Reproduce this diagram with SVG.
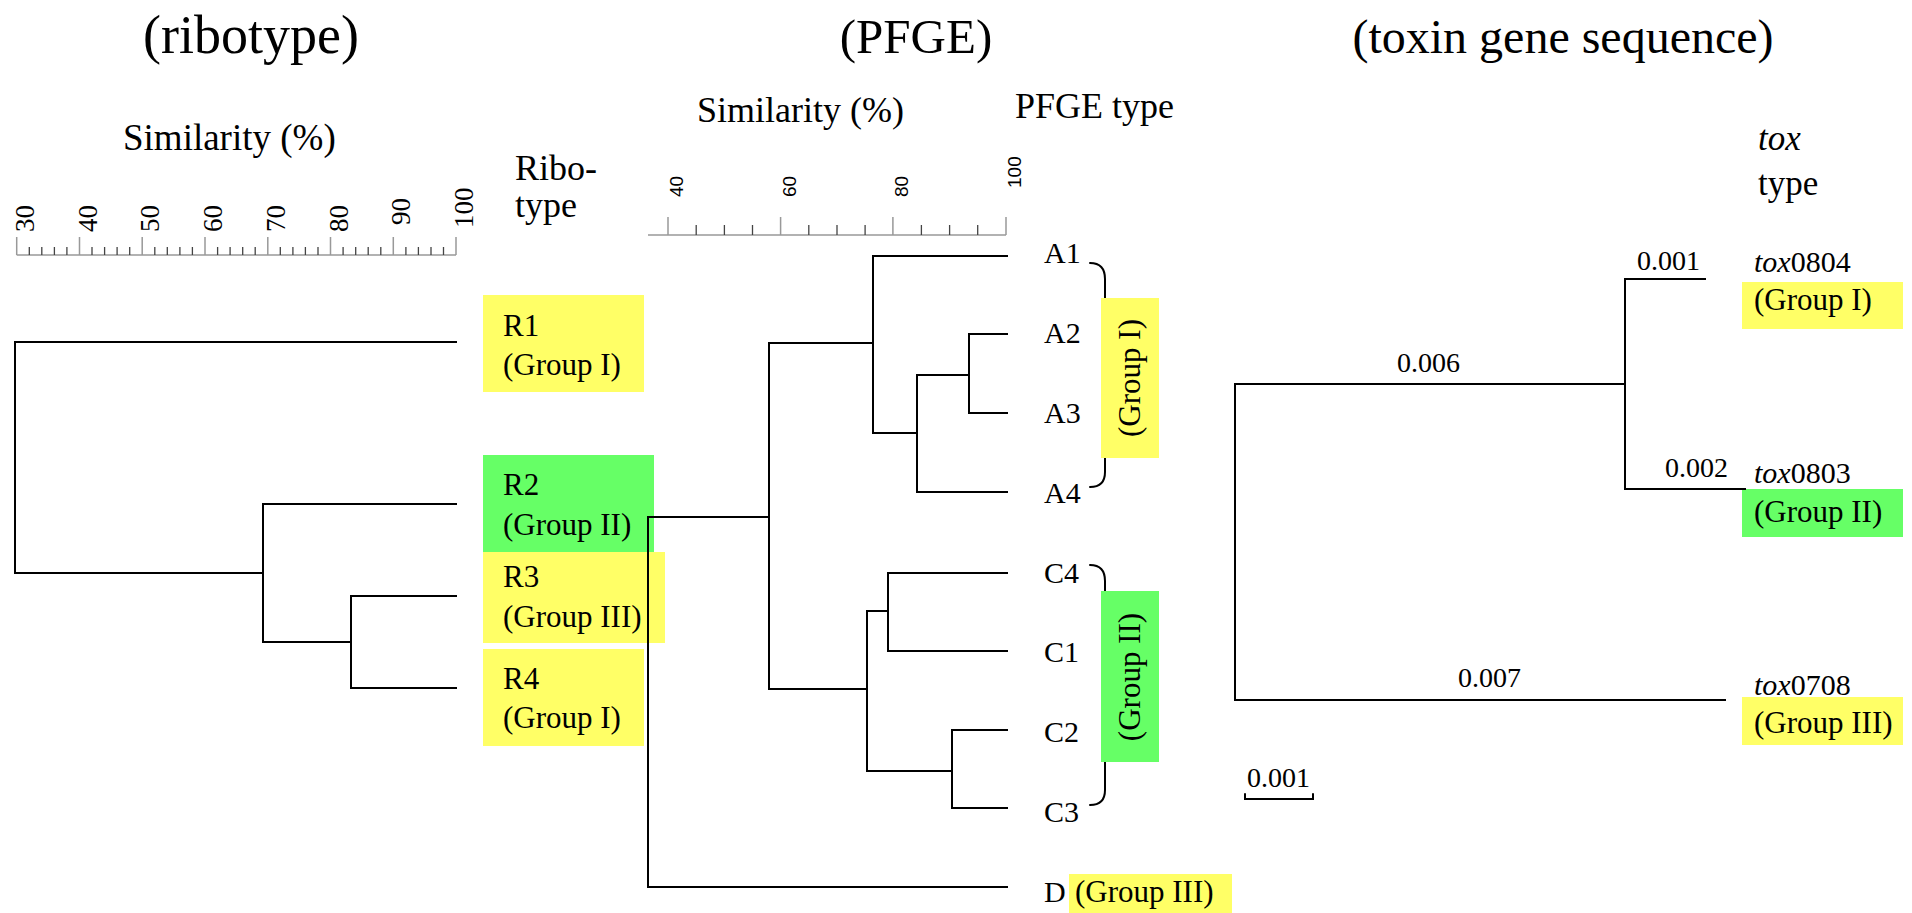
<svg xmlns="http://www.w3.org/2000/svg" width="1912" height="913" viewBox="0 0 1912 913">
<style>
.t{font-family:"Liberation Serif","Times New Roman",serif;fill:#000}
.s{font-family:"Liberation Sans",Arial,sans-serif;fill:#000}
.ln{stroke:#000;stroke-width:2;fill:none;stroke-linecap:square}
.br{stroke:#000;stroke-width:2;fill:none;stroke-linecap:round}
.yel{fill:#FFFF66}
.grn{fill:#66FF66}
.ax{stroke:#999;stroke-width:1.5;fill:none}
.mi{stroke:#444;stroke-width:1.3;fill:none}
</style>
<rect width="1912" height="913" fill="#fff"/>

<g id="titles">
<text class="t" x="251" y="53" font-size="54" text-anchor="middle">(ribotype)</text>
<text class="t" x="916" y="53" font-size="49" text-anchor="middle">(PFGE)</text>
<text class="t" x="1563" y="53" font-size="48" text-anchor="middle">(toxin gene sequence)</text>
</g>

<g id="ribo-scale">
<text class="t" x="123" y="150" font-size="37">Similarity (%)</text>
<path class="ax" d="M16.7,255H456M16.7,237V255M79.5,237V255M142.2,237V255M205,237V255M267.8,237V255M330.5,237V255M393.3,237V255M456,237V255"/>
<path class="mi" d="M29.3,247V255M41.8,247V255M54.4,247V255M66.9,247V255M92,247V255M104.6,247V255M117.1,247V255M129.7,247V255M154.8,247V255M167.3,247V255M179.9,247V255M192.4,247V255M217.6,247V255M230.1,247V255M242.7,247V255M255.2,247V255M280.3,247V255M292.9,247V255M305.4,247V255M318,247V255M343.1,247V255M355.7,247V255M368.2,247V255M380.8,247V255M405.9,247V255M418.4,247V255M431,247V255M443.5,247V255"/>
<g font-size="27">
<text class="t" transform="translate(34,232) rotate(-90)">30</text>
<text class="t" transform="translate(96.5,232) rotate(-90)">40</text>
<text class="t" transform="translate(159.2,232) rotate(-90)">50</text>
<text class="t" transform="translate(222,232) rotate(-90)">60</text>
<text class="t" transform="translate(284.8,232) rotate(-90)">70</text>
<text class="t" transform="translate(347.5,232) rotate(-90)">80</text>
<text class="t" transform="translate(410.3,225) rotate(-90)">90</text>
<text class="t" transform="translate(473,228) rotate(-90)">100</text>
</g>
</g>

<g id="ribotype-header">
<text class="t" x="515" y="180" font-size="36">Ribo-</text>
<text class="t" x="515" y="217" font-size="36">type</text>
</g>

<g id="R1">
<rect class="yel" x="483" y="295" width="161" height="97"/>
<text class="t" x="503" y="336" font-size="31">R1</text>
<text class="t" x="503" y="375" font-size="31">(Group I)</text>
</g>
<g id="R2">
<rect class="grn" x="483" y="455" width="171" height="97"/>
<text class="t" x="503" y="495" font-size="31">R2</text>
<text class="t" x="503" y="535" font-size="31">(Group II)</text>
</g>
<g id="R3">
<rect class="yel" x="483" y="552" width="182" height="91"/>
<text class="t" x="503" y="587" font-size="31">R3</text>
<text class="t" x="503" y="627" font-size="31">(Group III)</text>
</g>
<g id="R4">
<rect class="yel" x="483" y="649" width="161" height="97"/>
<text class="t" x="503" y="689" font-size="31">R4</text>
<text class="t" x="503" y="728" font-size="31">(Group I)</text>
</g>

<g id="pfge-scale">
<text class="t" x="697" y="122" font-size="36">Similarity (%)</text>
<text class="t" x="1015" y="118" font-size="36">PFGE type</text>
<path class="ax" d="M648,235H1006M668,217V235M780.6,217V235M892.9,217V235M1006,217V235"/>
<path class="mi" d="M696.2,225V235M724.4,225V235M752.5,225V235M808.8,225V235M837,225V235M865.1,225V235M921.4,225V235M949.6,225V235M977.7,225V235"/>
<g font-size="19">
<text class="s" transform="translate(683,197) rotate(-90)">40</text>
<text class="s" transform="translate(795.6,197) rotate(-90)">60</text>
<text class="s" transform="translate(907.9,197) rotate(-90)">80</text>
<text class="s" transform="translate(1021,188) rotate(-90)">100</text>
</g>
</g>

<g id="pfge-leaves" font-size="30">
<text class="t" x="1044" y="263">A1</text>
<text class="t" x="1044" y="343">A2</text>
<text class="t" x="1044" y="423">A3</text>
<text class="t" x="1044" y="503">A4</text>
<text class="t" x="1044" y="583">C4</text>
<text class="t" x="1044" y="662">C1</text>
<text class="t" x="1044" y="742">C2</text>
<text class="t" x="1044" y="822">C3</text>
<text class="t" x="1044" y="902">D</text>
</g>

<g id="pfge-group1">
<path class="br" d="M1090,263C1100,263 1105,268 1105,279V472C1105,482 1100,487 1090,487"/>
<rect class="yel" x="1101" y="298" width="58" height="160"/>
<text class="t" transform="translate(1140,378) rotate(-90)" font-size="31" text-anchor="middle">(Group I)</text>
</g>
<g id="pfge-group2">
<path class="br" d="M1090,565C1100,565 1105,570 1105,581V790C1105,800 1100,805 1090,805"/>
<rect class="grn" x="1101" y="591" width="58" height="171"/>
<text class="t" transform="translate(1140,677) rotate(-90)" font-size="31" text-anchor="middle">(Group II)</text>
</g>
<g id="pfge-group3">
<rect class="yel" x="1069" y="874" width="163" height="39"/>
<text class="t" x="1075" y="902" font-size="31">(Group III)</text>
</g>

<g id="tox-header">
<text class="t" x="1758" y="150" font-size="35" font-style="italic">tox</text>
<text class="t" x="1758" y="195" font-size="35">type</text>
</g>
<g id="tox0804">
<rect class="yel" x="1742" y="282" width="161" height="47"/>
<text class="t" x="1754" y="272" font-size="30"><tspan font-style="italic">tox</tspan>0804</text>
<text class="t" x="1754" y="310" font-size="31">(Group I)</text>
</g>
<g id="tox0803">
<rect class="grn" x="1742" y="489" width="161" height="48"/>
<text class="t" x="1754" y="483" font-size="30"><tspan font-style="italic">tox</tspan>0803</text>
<text class="t" x="1754" y="522" font-size="31">(Group II)</text>
</g>
<g id="tox0708">
<rect class="yel" x="1742" y="697" width="161" height="48"/>
<text class="t" x="1754" y="695" font-size="30"><tspan font-style="italic">tox</tspan>0708</text>
<text class="t" x="1754" y="733" font-size="31">(Group III)</text>
</g>
<g id="tox-scale">
<text class="t" x="1247" y="787" font-size="28">0.001</text>
<path class="br" stroke-width="1.5" d="M1245,794V799H1313V794"/>
</g>
<g id="branch-labels" font-size="28">
<text class="t" x="1637" y="270">0.001</text>
<text class="t" x="1397" y="372">0.006</text>
<text class="t" x="1665" y="477">0.002</text>
<text class="t" x="1458" y="687">0.007</text>
</g>

<g id="connectors">
<path class="ln" d="M456,342H15V573H263M263,504V642M263,504H456M263,642H351M351,596V688M351,596H456M351,688H456"/>
<path class="ln" d="M648,517H769M648,517V887H1007M769,343V689M769,343H873M769,689H867M873,256V433M873,256H1007M873,433H917M917,375V492M917,375H969M917,492H1007M969,334V413M969,334H1007M969,413H1007M867,611V771M867,611H888M888,573V651M888,573H1007M888,651H1007M867,771H952M952,730V808M952,730H1007M952,808H1007"/>
<path class="ln" stroke-width="1.7" d="M1235,384V700H1725M1235,384H1625M1625,279V489M1625,279H1705M1625,489H1745"/>
</g>
</svg>
